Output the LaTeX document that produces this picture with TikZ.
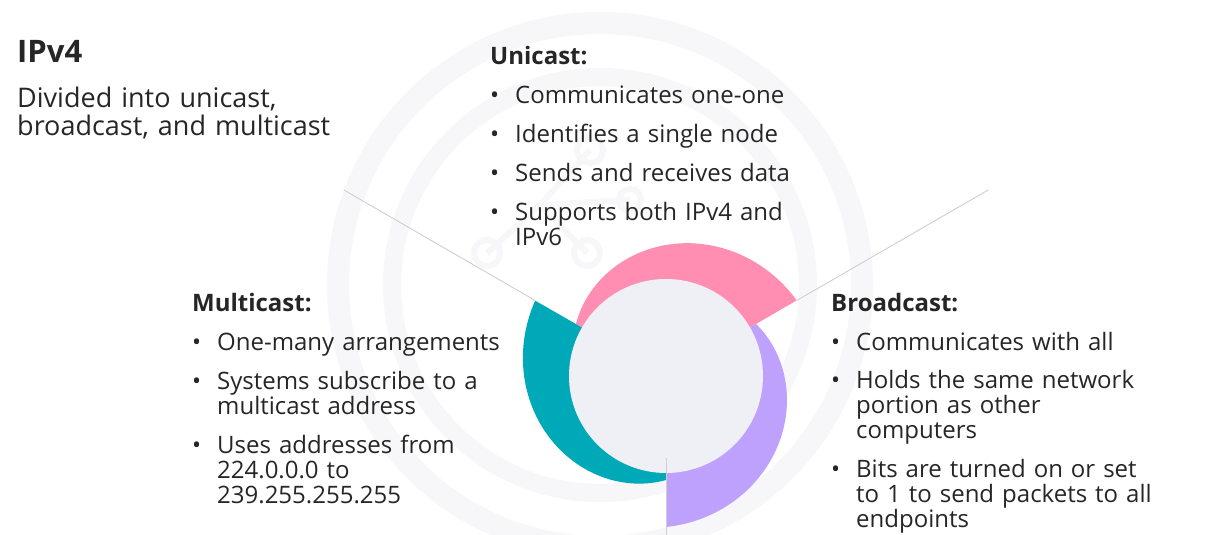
\documentclass[tikz,border=0pt]{standalone}
\usepackage{fontspec}
\setmainfont{Open Sans}
\newcommand\pitem[1]{\par\hangindent=25pt\hangafter=1\noindent\makebox[25pt][l]{\textbullet}#1\par}
\begin{document}
\begin{tikzpicture}[x=1pt,y=1pt]
\definecolor{ink}{HTML}{262626}
\definecolor{wmgray}{HTML}{F7F7F9}
\definecolor{rule}{HTML}{CFCFD2}
\definecolor{coreFill}{HTML}{EFF0F6}
\definecolor{uniPink}{HTML}{FF8EB2}
\definecolor{broadPurple}{HTML}{BEA1FD}
\definecolor{multiTeal}{HTML}{00A9B8}
\tikzset{
  wm/.style={draw=wmgray},
  spoke/.style={draw=rule, line width=0.9pt},
  blk/.style={anchor=base west, inner sep=0pt, text width=#1, align=left,
    font=\fontsize{24}{25}\selectfont, text=ink},
}
\useasboundingbox (0,0) rectangle (1227,535);
\fill[white] (0,0) rectangle (1227,535);

% faint background emblem: two rings and a small network icon
\begin{scope}[shift={(600,250)}]
  \draw[wm, line width=22pt] (0,0) circle (262);
  \draw[wm, line width=18pt] (0,0) circle (208);
\end{scope}
\begin{scope}[wm, line width=6pt]
  \draw (540,330) -- (487,282);
  \draw (540,330) -- (587,282);
  \draw (540,330) -- (590,385);
  \draw (540,330) -- (630,335);
  \draw (487,282) circle (13);
  \draw (587,282) circle (13);
  \draw (590,385) circle (13);
  \draw (630,335) circle (11);
\end{scope}

% three spiral segments round the core
\begin{scope}[shift={(666,159)}]
  \fill[uniPink] plot[domain=0:1, samples=90]
     ({150-120*\x}:{104+47*\x*(1.3-0.3*\x)}) -- (30:90)
     arc[start angle=30, end angle=150, radius=90] -- cycle;
  \fill[broadPurple] plot[domain=0:1, samples=90]
     ({30-120*\x}:{104+47*\x*(1.3-0.3*\x)}) -- (-90:90)
     arc[start angle=-90, end angle=30, radius=90] -- cycle;
  \fill[multiTeal] plot[domain=0:1, samples=90]
     ({-90-120*\x}:{104+47*\x*(1.3-0.3*\x)}) -- (150:90)
     arc[start angle=150, end angle=270, radius=90] -- cycle;
  \fill[coreFill] (0,0) circle (97);
  \coordinate (core) at (0,0);
  \coordinate (uniEnd) at (30:151);
  \coordinate (uniTip) at (30:372);
  \coordinate (multiEnd) at (150:151);
  \coordinate (multiTip) at (150:372);
  \coordinate (broadIn) at (-90:82);
  \coordinate (broadTip) at (-90:159);
\end{scope}

% divider rules between the three groups
\draw[spoke] (uniEnd) -- (uniTip);
\draw[spoke] (multiEnd) -- (multiTip);
\draw[spoke] (broadIn) -- (broadTip);

% title block
\node[anchor=base west, inner sep=0pt, text=ink,
      font=\bfseries\fontsize{31}{32}\selectfont] (title) at (17,472) {IPv4};
\node[blk=400, font=\fontsize{27}{28}\selectfont] (intro) at (17,427)
  {Divided into unicast,\newline broadcast, and multicast};

% unicast
\node[blk=360] (uni) at (490,470) {\setlength{\parskip}{14pt}%
  \noindent\textbf{Unicast:}
  \pitem{Communicates one-one}
  \pitem{Identifies a single node}
  \pitem{Sends and receives data}
  \pitem{Supports both IPv4 and\newline IPv6}};

% multicast
\node[blk=360] (multi) at (192,223) {\setlength{\parskip}{14pt}%
  \noindent\textbf{Multicast:}
  \pitem{One-many arrangements}
  \pitem{Systems subscribe to a\newline multicast address}
  \pitem{Uses addresses from\newline 224.0.0.0 to\newline 239.255.255.255}};

% broadcast
\node[blk=380] (broad) at (831,223) {\setlength{\parskip}{13.5pt}%
  \noindent\textbf{Broadcast:}
  \pitem{Communicates with all}
  \pitem{Holds the same network\newline portion as other\newline computers}
  \pitem{Bits are turned on or set\newline to 1 to send packets to all\newline endpoints}};
\end{tikzpicture}
\end{document}
